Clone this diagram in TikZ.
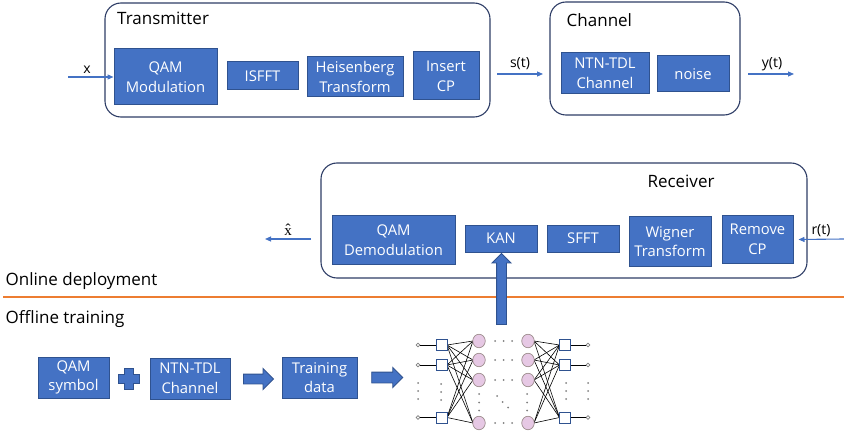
\documentclass[tikz,border=0pt]{standalone}
\usepackage{fontspec}
\setmainfont{Open Sans}
\newfontfamily\serifx{Liberation Serif}
\usetikzlibrary{arrows.meta,shapes.arrows,shapes.geometric}
\definecolor{blu}{HTML}{4472C4}
\definecolor{bdr}{HTML}{2F528F}
\definecolor{frm}{HTML}{2E3D66}
\definecolor{org}{HTML}{ED7D31}
\definecolor{pnk}{HTML}{E6C8E4}
\definecolor{pbd}{HTML}{9C8C8C}
\definecolor{dotc}{HTML}{7F7F7F}
\tikzset{
  blk/.style={draw=bdr, line width=1pt, fill=blu, text=white, align=center, inner sep=0pt, font=\fontsize{14.8}{19.7}\selectfont},
  frame/.style={draw=frm, line width=1.1pt, rounded corners=16pt, inner sep=0pt},
  ttl/.style={font=\fontsize{17}{20}\selectfont, inner sep=0pt},
  lbl/.style={font=\fontsize{14}{16}\selectfont, inner sep=0pt},
  sig/.style={draw=blu, line width=1.1pt, -{Triangle[length=6pt,width=5pt]}},
  sqn/.style={draw=bdr, fill=white, line width=0.9pt, minimum size=11pt, inner sep=0pt},
  pkn/.style={ellipse, draw=pbd, fill=pnk, line width=0.7pt, minimum width=12.5pt, minimum height=13.5pt, inner sep=0pt},
  term/.style={circle, draw=gray, fill=white, line width=0.6pt, minimum size=3.8pt, inner sep=0pt},
  dt/.style={circle, fill=dotc, minimum size=2pt, inner sep=0pt},
  wire/.style={black, line width=0.6pt},
  barrow/.style={single arrow, draw=bdr, fill=blu, line width=0.9pt, inner xsep=0pt}
}
\begin{document}
\begin{tikzpicture}[x=1pt,y=-1pt]
\useasboundingbox (0,0) rectangle (844,433);

% ---------- Transmitter ----------
\node[frame, minimum width=385pt, minimum height=114pt] (tx) at (297.5,60) {};
\node[ttl, anchor=base west] (txt) at (117,25) {Transmitter};
\node[blk, minimum width=103pt, minimum height=56pt] (qmod) at (165.5,77) {QAM\\Modulation};
\node[blk, minimum width=71pt, minimum height=28pt] (isfft) at (262.5,76) {ISFFT};
\node[blk, minimum width=96pt, minimum height=40pt] (heis) at (355,77) {Heisenberg\\Transform};
\node[blk, minimum width=66pt, minimum height=48pt] (icp) at (446,76) {Insert\\CP};
\coordinate (xin) at (68,77);
\draw[sig] (xin) -- (qmod.west);
\node[lbl, anchor=base] (xl) at (87,74) {x};

% ---------- Channel ----------
\node[frame, minimum width=190pt, minimum height=113pt] (ch) at (645,58.5) {};
\node[ttl, anchor=base west] (cht) at (566.5,26.7) {Channel};
\node[blk, minimum width=88pt, minimum height=41pt] (ntn) at (605,73.5) {NTN-TDL\\Channel};
\node[blk, minimum width=72pt, minimum height=36pt] (noise) at (693,74) {noise};
\coordinate (s1) at (497,74);
\coordinate (s2) at (543,74);
\draw[sig] (s1) -- (s2);
\node[lbl, anchor=base] (sl) at (520,67.5) {s(t)};
\coordinate (y1) at (748,74);
\coordinate (y2) at (794,74);
\draw[sig] (y1) -- (y2);
\node[lbl, anchor=base] (yl) at (772,67.5) {y(t)};

% ---------- Receiver ----------
\node[frame, minimum width=486pt, minimum height=115pt] (rx) at (564,220.5) {};
\node[ttl, anchor=base] (rxt) at (681,187.7) {Receiver};
\node[blk, minimum width=123pt, minimum height=48pt] (qdem) at (393.5,240) {QAM\\Demodulation};
\node[blk, minimum width=72pt, minimum height=27pt] (kan) at (501,238.5) {KAN};
\node[blk, minimum width=72pt, minimum height=27pt] (sfft) at (583,238.5) {SFFT};
\node[blk, minimum width=82pt, minimum height=49pt] (wig) at (670,241.5) {Wigner\\Transform};
\node[blk, minimum width=71pt, minimum height=47pt] (rcp) at (757.5,239.5) {Remove\\CP};
\coordinate (r1) at (844,239);
\draw[sig] (r1) -- ([xshift=5pt]rcp.east);
\node[lbl, anchor=base] (rl) at (821,234) {r(t)};
\coordinate (h1) at (311,239);
\coordinate (h2) at (265,239);
\draw[sig] (h1) -- (h2);
\node[inner sep=0pt, anchor=base, font=\serifx\fontsize{15}{16}\selectfont] (hl) at (288,235) {\^{x}};

% ---------- Divider ----------
\coordinate (d1) at (3,297);
\coordinate (d2) at (844,297);
\draw[org, line width=2pt] (d1) -- (d2);
\node[ttl, anchor=base west] (on) at (5.5,285.7) {Online deployment};
\node[ttl, anchor=base west] (off) at (5.5,323.3) {Offline training};

% ---------- Offline training ----------
\node[blk, minimum width=71pt, minimum height=41pt] (qsym) at (73.5,377.5) {QAM\\symbol};
\filldraw[fill=blu, draw=bdr, line width=0.9pt]
  (124,368) -- (133,368) -- (133,374) -- (139,374) -- (139,383) -- (133,383)
  -- (133,389) -- (124,389) -- (124,383) -- (118,383) -- (118,374) -- (124,374) -- cycle;
\node[blk, minimum width=80pt, minimum height=41pt] (ntn2) at (190,378.5) {NTN-TDL\\Channel};
\node[barrow, inner ysep=4.5pt, single arrow head extend=5.5pt, minimum height=30pt] (a1) at (256,379) {};
\node[blk, minimum width=75pt, minimum height=41pt] (train) at (319.5,377.5) {Training\\data};
\node[barrow, inner ysep=5pt, single arrow head extend=4.5pt, minimum height=31pt] (a2) at (384.5,377.5) {};

% ---------- Neural network ----------
\foreach \i/\y in {1/345,2/365,3/417.5}{
  \coordinate (ls\i) at (441.5,\y);
  \coordinate (rs\i) at (565,\y);
  \node[term] (lt\i) at (418,\y) {};
  \node[term] (rt\i) at (588,\y) {};
}
\foreach \j/\y in {1/341,2/360,3/380,4/423}{
  \coordinate (lp\j) at (479,\y);
  \coordinate (rp\j) at (528,\y);
}
\foreach \i in {1,2,3}{
  \draw[wire] (lt\i) -- (ls\i);
  \draw[wire] (rs\i) -- (rt\i);
  \foreach \j in {1,2,3,4}{
    \draw[wire] ([xshift=5.5pt]ls\i) -- ([xshift=-6pt]lp\j);
    \draw[wire] ([xshift=6pt]rp\j) -- ([xshift=-5.5pt]rs\i);
  }
}
\foreach \i/\y in {1/345,2/365,3/417.5}{
  \node[sqn] (lsq\i) at (ls\i) {};
  \node[sqn] (rsq\i) at (rs\i) {};
}
\foreach \j/\y in {1/341,2/360,3/380,4/423}{
  \node[pkn] (lpk\j) at (lp\j) {};
  \node[pkn] (rpk\j) at (rp\j) {};
  \foreach \xx in {495,503.5,512}{\node[dt] at (\xx,\y) {};}
}
\foreach \y in {383,391,399}{
  \node[dt] at (418,\y) {};
  \node[dt] at (441,\y+1) {};
  \node[dt] at (566,\y) {};
  \node[dt] at (588,\y) {};
}
\foreach \y in {394,402.5,410.5}{
  \node[dt] at (479,\y) {};
  \node[dt] at (527,\y) {};
}
\node[dt] at (497,396) {};
\node[dt] at (502.5,402) {};
\node[dt] at (508,407.5) {};

% ---------- KAN feed arrow ----------
\node[barrow, rotate=90, inner ysep=4.5pt, single arrow head extend=4.5pt, minimum height=71pt] (up) at (501.5,291.5) {};
\end{tikzpicture}
\end{document}
